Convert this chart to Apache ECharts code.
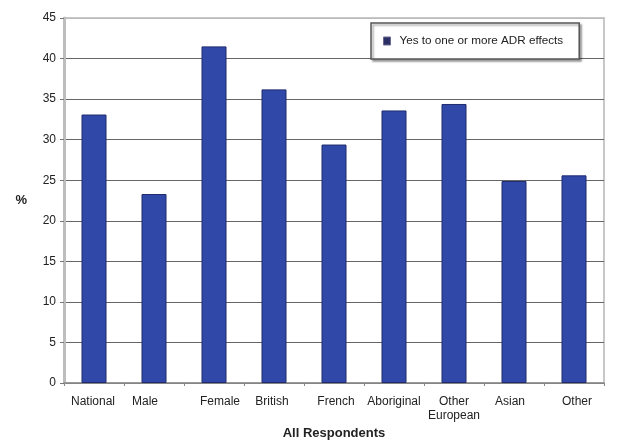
<!DOCTYPE html>
<html>
<head>
<meta charset="utf-8">
<script src="https://cdn.jsdelivr.net/npm/echarts@6/dist/echarts.min.js"></script>
<style>
  html, body { margin: 0; padding: 0; background: #fff; }
  #chart { width: 640px; height: 448px; }
</style>
</head>
<body>
<div id="chart"></div>
<script>
// Respondents answering yes to one or more ADR effects, by group (%)
const categories = ['National', 'Male', 'Female', 'British', 'French', 'Aboriginal', 'Other\nEuropean', 'Asian', 'Other'];
const yesValues = [33.1, 23.3, 41.5, 36.2, 29.4, 33.6, 34.4, 24.9, 25.6];
const yTicks = [0, 5, 10, 15, 20, 25, 30, 35, 40, 45];
const seriesName = 'Yes to one or more ADR effects';
const xTitle = 'All Respondents';
const yTitle = '%';

// small horizontal nudges for the category labels (px, + = right)
const labelNudge = [-1, -9, 6, -2, 2, 0, 0, -4, 3];

const FONT = "'Liberation Sans', Arial, sans-serif";

const rich = {};
categories.forEach((c, i) => {
  const n = labelNudge[i];
  rich['c' + i] = {
    fontFamily: FONT, fontSize: 12, color: '#222', lineHeight: 14,
    padding: n >= 0 ? [0, 0, 0, 2 * n] : [0, -2 * n, 0, 0]
  };
});

const chart = echarts.init(document.getElementById('chart'), null, { renderer: 'canvas' });
chart.setOption({
  animation: false,
  backgroundColor: '#fff',
  grid: {
    left: 64, right: 36, top: 18, bottom: 65,
    show: true, borderColor: '#c8c8c8', borderWidth: 2, backgroundColor: 'transparent'
  },
  legend: {
    data: [seriesName],
    left: 371, top: 23,
    orient: 'horizontal',
    icon: 'rect',
    itemWidth: 7, itemHeight: 8,
    padding: [12, 16, 12, 12],
    backgroundColor: '#fff',
    borderColor: '#555',
    borderWidth: 1.5,
    shadowColor: 'rgba(0,0,0,0.35)',
    shadowBlur: 2,
    shadowOffsetX: 2,
    shadowOffsetY: 2,
    itemStyle: { color: '#2c2f66', borderColor: '#6a6a90', borderWidth: 1 },
    textStyle: { fontFamily: FONT, fontSize: 11.7, color: '#222', padding: [0, 0, 0, 4] }
  },
  xAxis: {
    type: 'category',
    data: categories,
    name: xTitle,
    nameLocation: 'middle',
    nameGap: 44,
    nameTextStyle: { fontFamily: FONT, fontSize: 13, fontWeight: 'bold', color: '#222' },
    axisLine: { show: true, lineStyle: { color: '#8a8a8a', width: 1.5 } },
    axisTick: { show: true, length: 3, lineStyle: { color: '#888' } },
    axisLabel: {
      interval: 0,
      margin: 12,
      formatter: (v, i) => v.split('\n').map(s => '{c' + i + '|' + s + '}').join('\n'),
      rich: rich
    }
  },
  yAxis: {
    type: 'value',
    min: 0, max: 45, interval: 5,
    name: yTitle,
    nameLocation: 'middle',
    nameRotate: 0,
    nameGap: 37,
    nameTextStyle: { fontFamily: FONT, fontSize: 13, fontWeight: 'bold', color: '#222' },
    axisLine: { show: true, lineStyle: { color: '#bdbdbd', width: 3 } },
    axisTick: { show: true, length: 4, lineStyle: { color: '#777' } },
    axisLabel: {
      margin: 8,
      fontFamily: FONT, fontSize: 12, color: '#222',
      formatter: v => yTicks.includes(v) ? String(v) : ''
    },
    splitLine: {
      show: true,
      lineStyle: {
        color: ['#777', '#666', '#666', '#666', '#666', '#666', '#666', '#666', '#666', '#bbb'],
        width: 1.2
      }
    }
  },
  series: [{
    name: seriesName,
    type: 'bar',
    data: yesValues,
    barWidth: 25,
    itemStyle: { color: '#3049a8', borderColor: '#1f2b6e', borderWidth: 1 }
  }]
});
</script>
</body>
</html>
